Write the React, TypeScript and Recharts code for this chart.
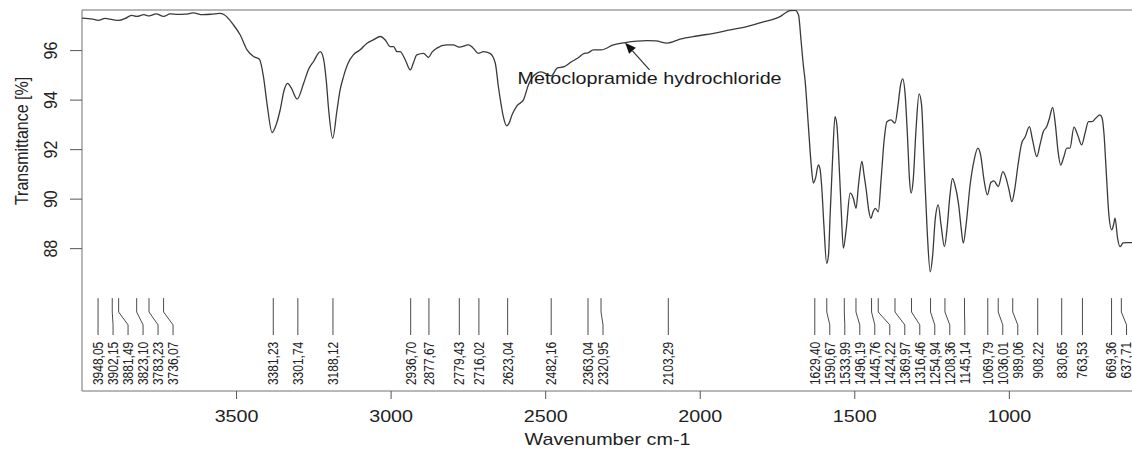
import React from 'react';
import {
  ComposedChart,
  Line,
  Scatter,
  XAxis,
  YAxis,
  ReferenceArea,
  ReferenceLine,
  ReferenceDot,
} from 'recharts';

// FT-IR spectrum: wavenumber (cm-1) against transmittance (%)
const wavenumbers = [
  4000, 3965, 3948, 3925, 3902, 3881, 3860, 3840, 3823, 3800, 3783, 3760, 3736, 3715, 3690, 3665,
  3640, 3610, 3580, 3555, 3540, 3510, 3488, 3466, 3445, 3426, 3413, 3401, 3385, 3372, 3359, 3346,
  3335, 3323, 3304, 3283, 3268, 3251, 3229, 3219, 3210, 3202, 3189, 3175, 3165, 3154, 3139, 3122,
  3100, 3078, 3058, 3035, 3019, 3003, 2992, 2981, 2971, 2954, 2938, 2928, 2917, 2895, 2879, 2867,
  2852, 2820, 2799, 2780, 2750, 2735, 2718, 2701, 2680, 2663, 2653, 2644, 2637, 2626, 2618, 2609,
  2593, 2572, 2556, 2544, 2528, 2515, 2482, 2462, 2440, 2418, 2397, 2375, 2363, 2346, 2321, 2281,
  2243, 2173, 2143, 2107, 2065, 2011, 1957, 1903, 1849, 1796, 1742, 1720, 1709, 1693, 1682, 1674,
  1666, 1661, 1650, 1641, 1634, 1627, 1618, 1612, 1607, 1600, 1591, 1585, 1580, 1572, 1564, 1558,
  1553, 1544, 1537, 1528, 1515, 1505, 1496, 1488, 1477, 1470, 1463, 1455, 1448, 1441, 1434, 1424,
  1415, 1405, 1396, 1383, 1370, 1360, 1352, 1345, 1337, 1329, 1323, 1318, 1311, 1302, 1292, 1284,
  1276, 1266, 1256, 1248, 1240, 1230, 1221, 1210, 1202, 1192, 1184, 1176, 1164, 1156, 1149, 1140,
  1127, 1114, 1102, 1093, 1082, 1071, 1060, 1050, 1036, 1021, 1011, 1001, 992, 983, 972, 960,
  949, 935, 925, 911, 901, 890, 879, 870, 860, 851, 843, 834, 825, 814, 804, 791,
  779, 766, 755, 744, 733, 720, 707, 700, 694, 686, 678, 669, 663, 658, 650, 642,
  632, 620, 600,
];

const transmittance = [
  97.31, 97.27, 97.22, 97.3, 97.25, 97.22, 97.3, 97.42, 97.38, 97.45, 97.4, 97.48, 97.38, 97.48, 97.46, 97.47,
  97.52, 97.45, 97.47, 97.5, 97.45, 97.04, 96.63, 96.03, 95.76, 95.65, 94.95, 93.81, 92.69, 93.0, 93.6, 94.41,
  94.68, 94.49, 94.04, 94.68, 95.22, 95.56, 95.96, 95.69, 94.82, 93.6, 92.46, 93.6, 94.41, 94.95, 95.5, 95.83,
  96.03, 96.3, 96.43, 96.57, 96.43, 96.16, 96.16, 95.96, 95.96, 95.62, 95.22, 95.5, 95.83, 95.89, 95.73, 95.95,
  96.1, 96.23, 96.23, 96.14, 96.23, 96.11, 95.89, 95.96, 95.89, 95.49, 94.55, 93.81, 93.33, 92.96, 93.08, 93.4,
  93.77, 94.01, 94.61, 94.9, 95.09, 95.14, 94.98, 95.3, 95.35, 95.54, 95.69, 95.89, 95.91, 96.03, 96.03, 96.23,
  96.32, 96.4, 96.39, 96.3, 96.46, 96.59, 96.7, 96.84, 96.97, 97.16, 97.37, 97.56, 97.62, 97.63, 97.44, 96.43,
  95.35, 94.82, 92.93, 91.38, 90.65, 90.85, 91.38, 91.18, 90.5, 88.96, 87.41, 87.75, 89.29, 91.58, 93.33, 93.0,
  91.99, 89.56, 88.02, 88.76, 90.24, 90.05, 89.63, 90.57, 91.52, 90.98, 90.37, 89.56, 89.23, 89.48, 89.63, 89.49,
  90.78, 92.39, 93.13, 93.2, 93.07, 93.81, 94.61, 94.86, 94.21, 92.39, 90.78, 90.24, 90.78, 92.8, 94.25, 93.81,
  91.58, 88.76, 87.07, 87.75, 89.16, 89.77, 88.96, 88.08, 88.76, 90.17, 90.84, 90.57, 89.77, 88.84, 88.22, 88.96,
  90.57, 91.58, 92.06, 91.79, 90.78, 90.17, 90.67, 90.74, 90.51, 91.11, 90.86, 90.37, 89.9, 90.37, 91.38, 92.26,
  92.51, 92.93, 92.39, 91.72, 92.19, 92.73, 92.93, 93.28, 93.71, 93.0, 91.99, 91.38, 91.66, 92.06, 92.06, 92.91,
  92.59, 92.19, 92.67, 93.13, 93.13, 93.28, 93.4, 93.28, 92.66, 90.98, 89.36, 88.76, 88.96, 89.23, 88.43, 88.08,
  88.23, 88.24, 88.24,
];

// picked peak positions
const peakWavenumbers = [
  3948.05, 3902.15, 3881.49, 3823.1, 3783.23, 3736.07, 3381.23, 3301.74, 3188.12, 2936.7, 2877.67,
  2779.43, 2716.02, 2623.04, 2482.16, 2363.04, 2320.95, 2103.29, 1629.4, 1590.67, 1533.99, 1496.19,
  1445.76, 1424.22, 1369.97, 1316.46, 1254.94, 1208.36, 1145.14, 1069.79, 1036.01, 989.06, 908.22,
  830.65, 763.53, 669.36, 637.71,
];

const xTicks = [3500, 3000, 2500, 2000, 1500, 1000];
const yTicks = [88, 90, 92, 94, 96];

const sampleName = 'Metoclopramide hydrochloride';
const xTitle = 'Wavenumber cm-1';
const yTitle = 'Transmittance [%]';

// arrow from the sample name up to the trace
const arrowTail = { wn: 2164, t: 95.22 };
const arrowTip = { wn: 2243, t: 96.32 };
const nameBaseline = 94.65;

const X_MIN = 600;
const X_MAX = 4000;
const Y_MIN = 82.25;
const Y_MAX = 97.64;

const CHART_W = 1140;
const CHART_H = 451;
const MARGIN = { top: 10, right: 7, bottom: 0, left: 0 };
const Y_AXIS_W = 82;
const X_AXIS_H = 60;
const PLOT_W = CHART_W - MARGIN.left - MARGIN.right - Y_AXIS_W;

// peak label leader geometry, in transmittance units
const LEADER_TOP = 86.0;
const LEADER_BEND_A = 85.44;
const LEADER_BEND_B = 84.92;
const LEADER_END = 84.51;
const LABEL_TOP = 84.24;
const LABEL_GAP = (15 * (X_MAX - X_MIN)) / PLOT_W;

const FONT = '"Liberation Sans", Arial, Helvetica, sans-serif';
const SX = 1.16;
const INK = '#222';

const spectrum = wavenumbers.map((wn, i) => ({ wn, t: transmittance[i] }));

// push labels right until they no longer overlap
const labelWn: number[] = [];
peakWavenumbers.forEach((wn, i) => {
  const prev = i === 0 ? Infinity : labelWn[i - 1];
  labelWn.push(Math.min(wn, prev - LABEL_GAP));
});

const leaders = peakWavenumbers.map((wn, i) => [
  { wn, t: LEADER_TOP },
  { wn, t: LEADER_BEND_A },
  { wn: labelWn[i], t: LEADER_BEND_B },
  { wn: labelWn[i], t: LEADER_END },
]);

const peakLabels = peakWavenumbers.map((wn, i) => ({
  wn: labelWn[i],
  t: LABEL_TOP,
  text: wn.toFixed(2).replace('.', ','),
}));

const XTick = (p: any) => (
  <text
    transform={`translate(${p.x},${p.y + 23}) scale(${SX},1)`}
    textAnchor="middle"
    fontSize={17}
    fontFamily={FONT}
    fill={INK}
  >
    {p.payload.value}
  </text>
);

const YTick = (p: any) => (
  <text
    transform={`translate(${p.x - 20},${p.y}) scale(${SX},1) rotate(-90)`}
    textAnchor="middle"
    dy="0.35em"
    fontSize={16}
    fontFamily={FONT}
    fill={INK}
  >
    {p.payload.value}
  </text>
);

const XTitle = (p: any) => {
  const vb = p.viewBox;
  return (
    <text
      transform={`translate(${vb.x + vb.width / 2},${vb.y + vb.height - 6}) scale(${SX},1)`}
      textAnchor="middle"
      fontSize={17}
      fontFamily={FONT}
      fill={INK}
    >
      {xTitle}
    </text>
  );
};

const YTitle = (p: any) => {
  const vb = p.viewBox;
  return (
    <text
      transform={`translate(${vb.x + 21},${vb.y + 131}) scale(${SX},1) rotate(-90)`}
      textAnchor="middle"
      dy="0.35em"
      fontSize={16}
      fontFamily={FONT}
      fill={INK}
    >
      {yTitle}
    </text>
  );
};

const PeakLabel = (p: any) => (
  <text
    transform={`translate(${p.cx},${p.cy}) scale(${SX},1) rotate(-90)`}
    textAnchor="end"
    dy="0.35em"
    fontSize={12}
    fontFamily={FONT}
    fill={INK}
  >
    {p.payload.text}
  </text>
);

const Arrow = (p: any) => {
  const { x1, y1, x2, y2 } = p;
  const ang = Math.atan2(y2 - y1, x2 - x1);
  const len = 11;
  const half = 4.5;
  const bx = x2 - len * Math.cos(ang);
  const by = y2 - len * Math.sin(ang);
  const ox = -Math.sin(ang) * half;
  const oy = Math.cos(ang) * half;
  return (
    <g>
      <line x1={x1} y1={y1} x2={bx} y2={by} stroke="#333" strokeWidth={1.2} />
      <polygon points={`${x2},${y2} ${bx + ox},${by + oy} ${bx - ox},${by - oy}`} fill="#111" />
    </g>
  );
};

const SampleName = (p: any) => (
  <text
    transform={`translate(${p.cx},${p.cy}) scale(${SX},1)`}
    textAnchor="middle"
    fontSize={17}
    fontFamily={FONT}
    fill="#1a1a1a"
  >
    {sampleName}
  </text>
);

export default function App() {
  return (
    <div
      style={{
        position: 'absolute',
        left: 0,
        top: 0,
        width: 1132,
        height: CHART_H,
        overflow: 'hidden',
        background: '#fff',
      }}
    >
      <ComposedChart width={CHART_W} height={CHART_H} margin={MARGIN}>
        <XAxis
          dataKey="wn"
          type="number"
          domain={[X_MIN, X_MAX]}
          reversed
          allowDataOverflow
          ticks={xTicks}
          axisLine={false}
          tickLine={{ stroke: '#555' }}
          tickSize={8}
          tickMargin={0}
          tick={XTick}
          height={X_AXIS_H}
          label={{ content: XTitle }}
        />
        <YAxis
          type="number"
          domain={[Y_MIN, Y_MAX]}
          allowDataOverflow
          ticks={yTicks}
          axisLine={false}
          tickLine={{ stroke: '#555' }}
          tickSize={12}
          tickMargin={0}
          tick={YTick}
          width={Y_AXIS_W}
          label={{ content: YTitle }}
        />
        <ReferenceArea
          x1={X_MIN}
          x2={X_MAX}
          y1={Y_MIN}
          y2={Y_MAX}
          fill="none"
          stroke="#707070"
          strokeWidth={1}
          ifOverflow="visible"
        />
        <Line
          data={spectrum}
          dataKey="t"
          type="monotone"
          stroke="#3a3a3a"
          strokeWidth={1.3}
          dot={false}
          activeDot={false}
          isAnimationActive={false}
        />
        {leaders.map((pts, i) => (
          <Line
            key={`leader-${i}`}
            data={pts}
            dataKey="t"
            type="linear"
            stroke="#4a4a4a"
            strokeWidth={1}
            dot={false}
            activeDot={false}
            isAnimationActive={false}
          />
        ))}
        <Scatter data={peakLabels} dataKey="t" shape={PeakLabel} isAnimationActive={false} />
        <ReferenceLine
          segment={[
            { x: arrowTail.wn, y: arrowTail.t },
            { x: arrowTip.wn, y: arrowTip.t },
          ]}
          shape={Arrow}
          ifOverflow="visible"
        />
        <ReferenceDot x={arrowTail.wn} y={nameBaseline} shape={SampleName} ifOverflow="visible" />
      </ComposedChart>
    </div>
  );
}
